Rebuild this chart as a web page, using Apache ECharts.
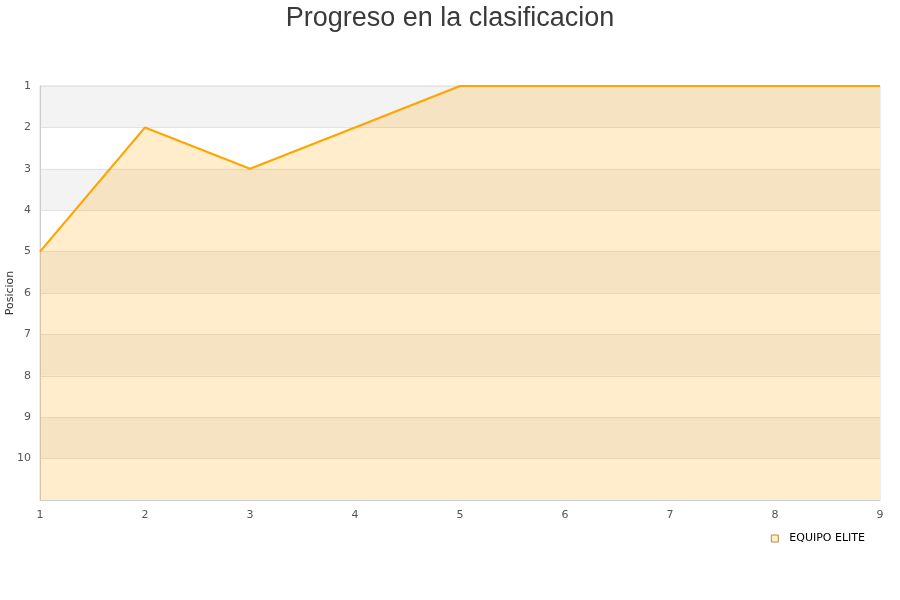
<!DOCTYPE html>
<html><head><meta charset="utf-8">
<script src="https://cdn.jsdelivr.net/npm/echarts@6/dist/echarts.min.js"></script>
<style>html,body{margin:0;padding:0;background:#fff}#c{width:900px;height:600px}</style>
</head><body><div id="c"></div>
<script>
const jornadas = [1, 2, 3, 4, 5, 6, 7, 8, 9];
const posiciones = [5, 2, 3, 2, 1, 1, 1, 1, 1];
const serieNombre = 'EQUIPO ELITE';
const titulo = 'Progreso en la clasificacion';
const ejeY = 'Posicion';

const chart = echarts.init(document.getElementById('c'));
chart.setOption({
  animation: false,
  title: { text: titulo, left: 'center', top: 0, textStyle: { fontSize: 27, fontWeight: 'normal', color: '#3a3a3a', fontFamily: 'Liberation Sans, Arial, sans-serif' } },
  grid: { left: 40, right: 20, top: 86, bottom: 100, containLabel: false, outerBoundsMode: 'none', show: true, borderColor: '#ddd', borderWidth: 1 },
  legend: {
    right: 30, top: 528, icon: 'rect', itemWidth: 7, itemHeight: 7, itemGap: 10,
    textStyle: { color: '#000', fontSize: 11, fontFamily: 'DejaVu Sans', padding: [0, 0, 0, 6] },
    data: [{ name: serieNombre, itemStyle: { color: '#ffedcc', borderColor: '#b58a3d', borderWidth: 1 } }]
  },
  xAxis: {
    type: 'value', min: 1, max: 9, interval: 1,
    axisLine: { show: true, lineStyle: { color: '#ccc' } },
    axisTick: { show: false },
    splitLine: { show: false },
    axisLabel: { color: '#555', fontSize: 11, margin: 10, fontFamily: 'DejaVu Sans' }
  },
  yAxis: {
    type: 'value', inverse: true, min: 1, max: 11, interval: 1,
    name: ejeY, nameLocation: 'middle', nameGap: 24, nameRotate: 90, nameMoveOverlap: false,
    nameTextStyle: { color: '#333', fontSize: 11, fontFamily: 'DejaVu Sans' },
    axisLine: { show: true, lineStyle: { color: '#ccc' } },
    axisTick: { show: false },
    splitLine: { show: true, lineStyle: { color: '#e2e2e2' } },
    splitArea: { show: true, areaStyle: { color: ['#f3f3f3', '#ffffff'] } },
    axisLabel: { color: '#555', fontSize: 11, margin: 9, fontFamily: 'DejaVu Sans',
      formatter: v => (v === 11 ? '' : String(v)) }
  },
  series: [{
    name: serieNombre, type: 'line',
    data: jornadas.map((j, i) => [j, posiciones[i]]),
    symbol: 'none', color: '#ffa500',
    lineStyle: { color: '#ffa500', width: 2.2 },
    areaStyle: { color: '#ffa500', opacity: 0.2, origin: 'end' }
  }]
});
</script></body></html>
